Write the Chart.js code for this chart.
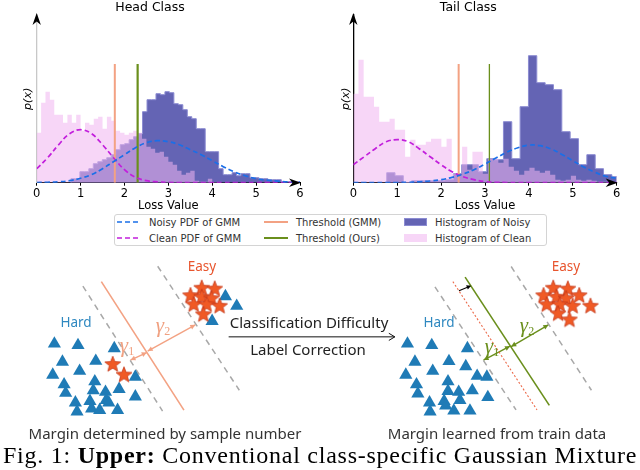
<!DOCTYPE html>
<html><head><meta charset="utf-8">
<script src="https://cdn.jsdelivr.net/npm/chart.js@4.4.1/dist/chart.umd.min.js"></script>
<style>
body{margin:0;background:#fff;}
#fig{position:relative;width:640px;height:470px;overflow:hidden;background:#fff;}
.box{position:absolute;}
.lab{position:absolute;transform:translate(-50%,-50%);white-space:nowrap;font-family:'Noto Sans',sans-serif;line-height:1.2;}
.gam{position:absolute;transform:translate(-50%,-50%);white-space:nowrap;font-family:'Liberation Serif',serif;font-style:italic;font-size:21px;line-height:1;}
.gam sub{font-size:12px;font-style:normal;vertical-align:-3px;}
#legend{position:absolute;left:114px;top:214px;width:433px;height:32px;border:1px solid #d4d4d4;border-radius:3px;box-sizing:border-box;font:10px 'DejaVu Sans',sans-serif;color:#333;background:#fff;}
.li{position:absolute;height:14px;display:flex;align-items:center;white-space:nowrap;}
.li svg{margin-right:8px;}
</style></head><body>
<div id="fig">
  <div class="box" style="left:0;top:0;width:310px;height:213px"><canvas id="head"></canvas></div>
  <div class="box" style="left:320px;top:0;width:310px;height:213px"><canvas id="tail"></canvas></div>
  <div id="legend">
    <div class="li" style="left:2px;top:0px"><svg width="24" height="4"><line x1="0" y1="2" x2="24" y2="2" stroke="#1a6fe8" stroke-width="1.6" stroke-dasharray="5,3"/></svg>Noisy PDF of GMM</div>
    <div class="li" style="left:2px;top:16px"><svg width="24" height="4"><line x1="0" y1="2" x2="24" y2="2" stroke="#c21fdc" stroke-width="1.6" stroke-dasharray="5,3"/></svg>Clean PDF of GMM</div>
    <div class="li" style="left:149px;top:0px"><svg width="24" height="4"><line x1="0" y1="2" x2="24" y2="2" stroke="#f3a283" stroke-width="2"/></svg>Threshold (GMM)</div>
    <div class="li" style="left:149px;top:16px"><svg width="24" height="4"><line x1="0" y1="2" x2="24" y2="2" stroke="#6a8f1c" stroke-width="2"/></svg>Threshold (Ours)</div>
    <div class="li" style="left:289px;top:0px"><svg width="23" height="8"><rect x="0.5" y="0.5" width="22" height="7" fill="rgb(100,100,180)" stroke="rgb(140,140,210)"/></svg>Histogram of Noisy</div>
    <div class="li" style="left:289px;top:16px"><svg width="23" height="8"><rect x="0" y="0" width="23" height="8" fill="rgb(247,214,247)"/></svg>Histogram of Clean</div>
  </div>
  <div class="box" style="left:0;top:250px;width:640px;height:190px"><canvas id="diag"></canvas></div>

  <div class="lab" style="left:202px;top:266px;font-size:13.5px;color:#e8552e">Easy</div>
  <div class="lab" style="left:76px;top:322px;font-size:13.5px;color:#2f88c0">Hard</div>
  <div class="lab" style="left:566px;top:266px;font-size:13.5px;color:#e8552e">Easy</div>
  <div class="lab" style="left:439px;top:322px;font-size:13.5px;color:#2f88c0">Hard</div>
  <div class="gam" style="left:163px;top:326px;color:#f0a080">γ<sub>2</sub></div>
  <div class="gam" style="left:127px;top:346px;color:#f0a080">γ<sub>1</sub></div>
  <div class="gam" style="left:527px;top:326px;color:#6a8f1c">γ<sub>2</sub></div>
  <div class="gam" style="left:492px;top:347px;color:#6a8f1c">γ<sub>1</sub></div>
  <div class="lab" style="left:309px;top:322px;font-size:15px;color:#222">Classification Difficulty</div>
  <div class="lab" style="left:308px;top:349px;font-size:15px;color:#222">Label Correction</div>
  <div class="lab" style="left:165px;top:433px;font-size:15px;color:#333">Margin determined by sample number</div>
  <div class="lab" style="left:497px;top:433px;font-size:15px;color:#333">Margin learned from train data</div>
  <div style="position:absolute;left:3px;top:443px;font:24px 'Liberation Serif',serif;letter-spacing:0.75px;line-height:24px;white-space:nowrap;color:#000">Fig. 1: <b>Upper:</b> Conventional class-specific Gaussian Mixture</div>
</div>
<script>
// ---------------- data: histograms (bin start, bin width, bar heights) ----------------
const xTicks = [0, 1, 2, 3, 4, 5, 6];
const headCleanStart = 0, headCleanWidth = 0.1;
const headCleanCounts = [50,80,91,83,68,68,60,68,60,68,52,60,58,64,66,54,66,62,52,50,48,50,52,50,44,36,34,30,31,26,21,18,12,8,10,12,2,1,1,4,0.5,0.5];
const headNoisyStart = 0.78, headNoisyWidth = 0.102;
const headNoisyCounts = [4,4,11,11,14,19,21,23,25,28,33,38,39,43,46,49,71,83,83,89,88,91,90,79,78,73,66,64,54,54,31,31,31,14,8,8,10,7,9,9,5,5,4,4,3,3,3,1,1,1];
const tailCleanStart = 0, tailCleanWidth = 0.118;
const tailCleanCounts = [89,123,86,86,76,61,61,64,53,53,26,43,38,38,41,44,44,36,44,9,8,36,13,31,31,9,24,24,20,24,16,12,8,12,15,12,10,12,8,3,2,3,7,3,2,3,2,1,1,0];
const tailNoisyStart = 0.76, tailNoisyWidth = 0.19;
const tailNoisyCounts = [10,7,0,2,2,2,2,3,9,18,18,11,24,23,61,24,76,127,100,98,93,51,44,18,28,14,8,6];
// ---------------- data: GMM pdf curves ----------------
const pdfX = [0,0.25,0.5,0.75,1,1.25,1.5,1.75,2,2.25,2.5,2.75,3,3.25,3.5,3.75,4,4.25,4.5,4.75,5,5.25,5.5,5.75,6];
const headCleanPdf = [14,25,38,49,53,49,38,25,13,5.5,2,0.8,0.3,0.2,0.2,0.2,0.2,0.2,0.2,0.2,0.2,0.2,0.2,0.2,0.2];
const headNoisyPdf = [0.2,0.4,1,2,4.5,8,14,21,28,35,40,42,41,38,33,28,22,16,11,7,4,2.5,1.5,0.8,0.5];
const tailCleanPdf = [18,26,34,41,43,41,34,26,18,11,6,3,1.1,0.4,0.2,0.2,0.2,0.2,0.2,0.2,0.2,0.2,0.2,0.2,0.2];
const tailNoisyPdf = [0,0,0,0.1,0.2,0.4,0.9,1.7,3,5.3,8.6,13,18.6,24.7,30.5,35,37.6,37,33.8,28.3,22,15.8,10.5,6.5,4.5];
// ---------------- data: thresholds ----------------
const headThresholdGMM = 1.78, headThresholdOurs = 2.30;
const tailThresholdGMM = 2.40, tailThresholdOurs = 3.10;
const thresholdHeight = 118.7;
const yMax = 167.7;

// ---------------- data: lower diagram (figure units) ----------------
const leftHardTriangles = [[46.7,343.7],[71,345.3],[108.3,348.7],[55,363.7],[89.3,362.7],[45,378],[72.7,373.7],[56.7,388.7],[88.3,385.3],[86.7,395.3],[58.3,398],[99.3,397],[113.3,393.7],[130,402],[130,380.3],[68.3,408.7],[83.3,407],[100,406],[85,415.3],[70,418.7],[93.3,417],[111.7,417],[102.7,408.7]];
const leftEasyTriangles = [[222.7,291.3],[234.3,302],[209,318.7]];
const leftEasyStars = [[198.3,281.7],[211.7,282.7],[186.7,290],[198.3,291.7],[208.3,293.3],[190,300],[203.3,300],[216.7,301.7],[200,311]];
const leftHardStars = [[106.7,366],[118.3,377.7]];
const rightHardTriangles = [[410,343.7],[435,345.3],[471.7,348.7],[417.7,363.7],[452.7,363],[408.3,378],[436,373.7],[419.3,388.7],[451.7,385.3],[470,368.7],[481.7,379.3],[491.7,380.3],[420.7,398.7],[451.7,396],[462.7,397],[476.7,395.3],[492.7,402.7],[432.7,408.7],[447.7,407],[464,406],[433.3,418.7],[457.7,417.7],[474.3,417.7],[449.3,412]];
const rightEasyStars = [[560,281.7],[575,282.7],[550,290],[563.3,291.7],[573.3,293.3],[586.7,290],[553.3,300],[566.7,300],[580,301.7],[598.3,301.7],[565,310],[576.7,316.7]];
const leftMarginA = [[76,280],[158,418]];
const leftMarginB = [[153,258],[237,395]];
const leftBoundary = [[95,275],[180,417]];
const leftGamma1 = [[141.7,353.3],[125,361.7]];
const leftGamma2 = [[142.7,351.7],[191.7,322.7]];
const rightMarginA = [[438.3,280.7],[521.7,416.7]];
const rightMarginB = [[516.7,258.3],[599.3,395]];
const rightOldBoundary = [[456.7,275],[543.3,416.7]];
const rightBoundary = [[469.3,270],[556,411.7]];
const rightShift = [[463,285],[475.5,279.5]];
const rightGamma1 = [[515.5,346.3],[488.3,361.7]];
const rightGamma2 = [[516.7,346.7],[555,322.7]];
const middleArrow = [[226,336],[397,336]];

// ---------------- colours ----------------
const BLUE = '#1a6fe8', MAGENTA = '#c21fdc', ORANGE = '#f3a283', GREEN = '#6a8f1c';
const NOISY_FILL = 'rgb(100,100,180)', NOISY_EDGE = 'rgb(140,140,210)', CLEAN_FILL = 'rgba(240,180,240,0.55)';

Chart.defaults.font.family = "'DejaVu Sans', sans-serif";
Chart.defaults.color = '#000';

function histPoints(start, width, counts){
  const pts = [{x:start, y:0}];
  counts.forEach((c,i) => pts.push({x:start + i*width, y:c}));
  pts.push({x:start + counts.length*width, y:0});
  return pts;
}
function curvePoints(xs, ys){ return xs.map((x,i) => ({x, y:ys[i]})); }
function vline(x){ return [{x, y:0}, {x, y:thresholdHeight}]; }

function stealth(ctx, x, y, ang){
  ctx.save(); ctx.translate(x, y); ctx.rotate(ang);
  ctx.beginPath(); ctx.moveTo(1,0); ctx.lineTo(-11,-4.2); ctx.lineTo(-7.5,0); ctx.lineTo(-11,4.2); ctx.closePath();
  ctx.fill(); ctx.restore();
}
const axisArrows = {
  id:'axisArrows',
  afterDatasetsDraw(chart){
    const {ctx, chartArea:a} = chart;
    ctx.save(); ctx.fillStyle = '#000';
    stealth(ctx, a.left, a.top - 1, -Math.PI/2);
    stealth(ctx, a.right, a.bottom, 0);
    ctx.restore();
  }
};

function makePanel(id, title, yBorder, yTitlePad, yWidth, rightPad, cfg){
  return new Chart(document.getElementById(id), {
    type:'scatter',
    data:{datasets:[
      {label:'Noisy PDF of GMM', data:curvePoints(pdfX, cfg.noisyPdf), showLine:true, borderColor:BLUE, borderWidth:1.7, borderDash:[5,3], pointRadius:0, tension:0.4, order:1},
      {label:'Clean PDF of GMM', data:curvePoints(pdfX, cfg.cleanPdf), showLine:true, borderColor:MAGENTA, borderWidth:1.7, borderDash:[5,3], pointRadius:0, tension:0.4, order:2},
      {label:'Threshold (GMM)', data:vline(cfg.thrGMM), showLine:true, borderColor:ORANGE, borderWidth:2, pointRadius:0, order:3},
      {label:'Threshold (Ours)', data:vline(cfg.thrOurs), showLine:true, borderColor:GREEN, borderWidth:cfg.greenWidth, pointRadius:0, order:3},
      {label:'Histogram of Clean', data:cfg.clean, showLine:true, stepped:true, fill:'origin', backgroundColor:CLEAN_FILL, borderWidth:0, borderColor:'rgba(0,0,0,0)', pointRadius:0, order:4},
      {label:'Histogram of Noisy', data:cfg.noisy, showLine:true, stepped:true, fill:'origin', backgroundColor:NOISY_FILL, borderColor:NOISY_EDGE, borderWidth:1, pointRadius:0, order:5}
    ]},
    options:{
      responsive:true, maintainAspectRatio:false, animation:false,
      layout:{padding:{right:rightPad, left:0, top:0, bottom:0}},
      plugins:{legend:{display:false}, tooltip:{enabled:false},
        title:{display:true, text:title, color:'#000', font:{size:12.5, weight:'normal'}, padding:{top:0, bottom:0}}},
      scales:{
        x:{type:'linear', min:0, max:6,
           afterBuildTicks(s){ s.ticks = xTicks.map(v => ({value:v})); },
           ticks:{font:{size:11.5}, padding:1, color:'#000', maxRotation:0},
           grid:{display:true, drawOnChartArea:false, drawTicks:true, tickLength:3, color:'#000'},
           border:{display:true, color:'#000', width:1},
           title:{display:true, text:'Loss Value', color:'#000', font:{size:11.5}, padding:{top:0, bottom:0}},
           afterFit(s){ s.height = 30.3; }},
        y:{min:0, max:yMax,
           ticks:{display:false}, grid:{display:false},
           border:{display:true, color:yBorder, width:1.3},
           title:{display:true, text:'p(x)', color:'#000', font:{size:11, style:'italic'}, padding:{top:yTitlePad, bottom:0}},
           afterFit(s){ s.width = yWidth; }}
      }
    },
    plugins:[axisArrows]
  });
}

makePanel('head', 'Head Class', '#c8c8c8', 21.4, 36.7, 10, {
  noisyPdf:headNoisyPdf, cleanPdf:headCleanPdf, thrGMM:headThresholdGMM, thrOurs:headThresholdOurs, greenWidth:2.2,
  clean:histPoints(headCleanStart, headCleanWidth, headCleanCounts),
  noisy:histPoints(headNoisyStart, headNoisyWidth, headNoisyCounts)
});
makePanel('tail', 'Tail Class', '#000', 20, 33.3, 13.3, {
  noisyPdf:tailNoisyPdf, cleanPdf:tailCleanPdf, thrGMM:tailThresholdGMM, thrOurs:tailThresholdOurs, greenWidth:1.3,
  clean:histPoints(tailCleanStart, tailCleanWidth, tailCleanCounts),
  noisy:histPoints(tailNoisyStart, tailNoisyWidth, tailNoisyCounts)
});

// ---------------- lower diagram ----------------
function starImage(){
  const c = document.createElement('canvas'); c.width = 20; c.height = 20;
  const g = c.getContext('2d'); const R = 8.3, r = 3.6;
  g.beginPath();
  for(let k=0;k<10;k++){
    const rad = (k%2===0)?R:r; const a = -Math.PI/2 + k*Math.PI/5;
    const px = 10 + rad*Math.cos(a), py = 10.5 + rad*Math.sin(a);
    k===0 ? g.moveTo(px,py) : g.lineTo(px,py);
  }
  g.closePath(); g.fillStyle = '#f05a25'; g.fill();
  g.lineWidth = 0.8; g.strokeStyle = '#c5381a'; g.stroke();
  return c;
}
const STAR = starImage();
const P = arr => arr.map(([x,y]) => ({x, y}));
function lineDs(pts, color, width, dash, extra){
  return Object.assign({data:P(pts), showLine:true, borderColor:color, borderWidth:width, borderDash:dash||[], pointRadius:0, fill:false, order:5}, extra||{});
}
function triDs(pts){ return {data:P(pts), pointStyle:'triangle', pointRadius:7.6, backgroundColor:'#1f7bb6', borderColor:'#1f7bb6', borderWidth:0, showLine:false, order:1}; }
function starDs(pts){ return {data:P(pts), pointStyle:STAR, pointRadius:8, showLine:false, order:0}; }

function arrowHead(ctx, tip, tail, size, open){
  const ang = Math.atan2(tip.y - tail.y, tip.x - tail.x);
  ctx.save(); ctx.translate(tip.x, tip.y); ctx.rotate(ang);
  ctx.beginPath();
  if(open){ ctx.moveTo(-size, -size*0.6); ctx.lineTo(0,0); ctx.lineTo(-size, size*0.6); ctx.lineWidth = 1; ctx.stroke(); }
  else { ctx.moveTo(0,0); ctx.lineTo(-size, -size*0.5); ctx.lineTo(-size, size*0.5); ctx.closePath(); ctx.fill(); }
  ctx.restore();
}
const arrowPlugin = {
  id:'arrowHeads',
  afterDatasetsDraw(chart){
    const ctx = chart.ctx;
    chart.data.datasets.forEach((ds,i) => {
      if(!ds.arrow) return;
      const pts = chart.getDatasetMeta(i).data; const a = pts[0], b = pts[pts.length-1];
      ctx.save(); ctx.fillStyle = ds.borderColor; ctx.strokeStyle = ds.borderColor;
      arrowHead(ctx, b, a, ds.arrowSize, ds.arrowOpen);
      if(ds.arrow === 'both') arrowHead(ctx, a, b, ds.arrowSize, ds.arrowOpen);
      ctx.restore();
    });
  }
};

new Chart(document.getElementById('diag'), {
  type:'scatter',
  data:{datasets:[
    lineDs(leftMarginA, '#a8a8a8', 1.5, [6,5]),
    lineDs(leftMarginB, '#a8a8a8', 1.5, [6,5]),
    lineDs(leftBoundary, ORANGE, 1.6),
    lineDs(leftGamma1, ORANGE, 1.4, [], {arrow:'both', arrowSize:5}),
    lineDs(leftGamma2, ORANGE, 1.4, [], {arrow:'both', arrowSize:5}),
    lineDs(rightMarginA, '#a8a8a8', 1.5, [6,5]),
    lineDs(rightMarginB, '#a8a8a8', 1.5, [6,5]),
    lineDs(rightOldBoundary, '#ec6a4a', 1.1, [2,2]),
    lineDs(rightBoundary, GREEN, 1.6),
    lineDs(rightShift, '#000', 1.1, [], {arrow:'end', arrowSize:4.5}),
    lineDs(rightGamma1, GREEN, 1.4, [], {arrow:'both', arrowSize:5}),
    lineDs(rightGamma2, GREEN, 1.4, [], {arrow:'both', arrowSize:5}),
    lineDs(middleArrow, '#111', 1, [], {arrow:'end', arrowSize:6, arrowOpen:true}),
    triDs(leftHardTriangles), triDs(leftEasyTriangles), triDs(rightHardTriangles),
    starDs(leftEasyStars), starDs(leftHardStars), starDs(rightEasyStars)
  ]},
  options:{
    responsive:true, maintainAspectRatio:false, animation:false,
    layout:{padding:0},
    plugins:{legend:{display:false}, tooltip:{enabled:false}},
    scales:{
      x:{type:'linear', min:0, max:640, display:false},
      y:{type:'linear', min:250, max:440, reverse:true, display:false}
    }
  },
  plugins:[arrowPlugin]
});
</script>
</body></html>
